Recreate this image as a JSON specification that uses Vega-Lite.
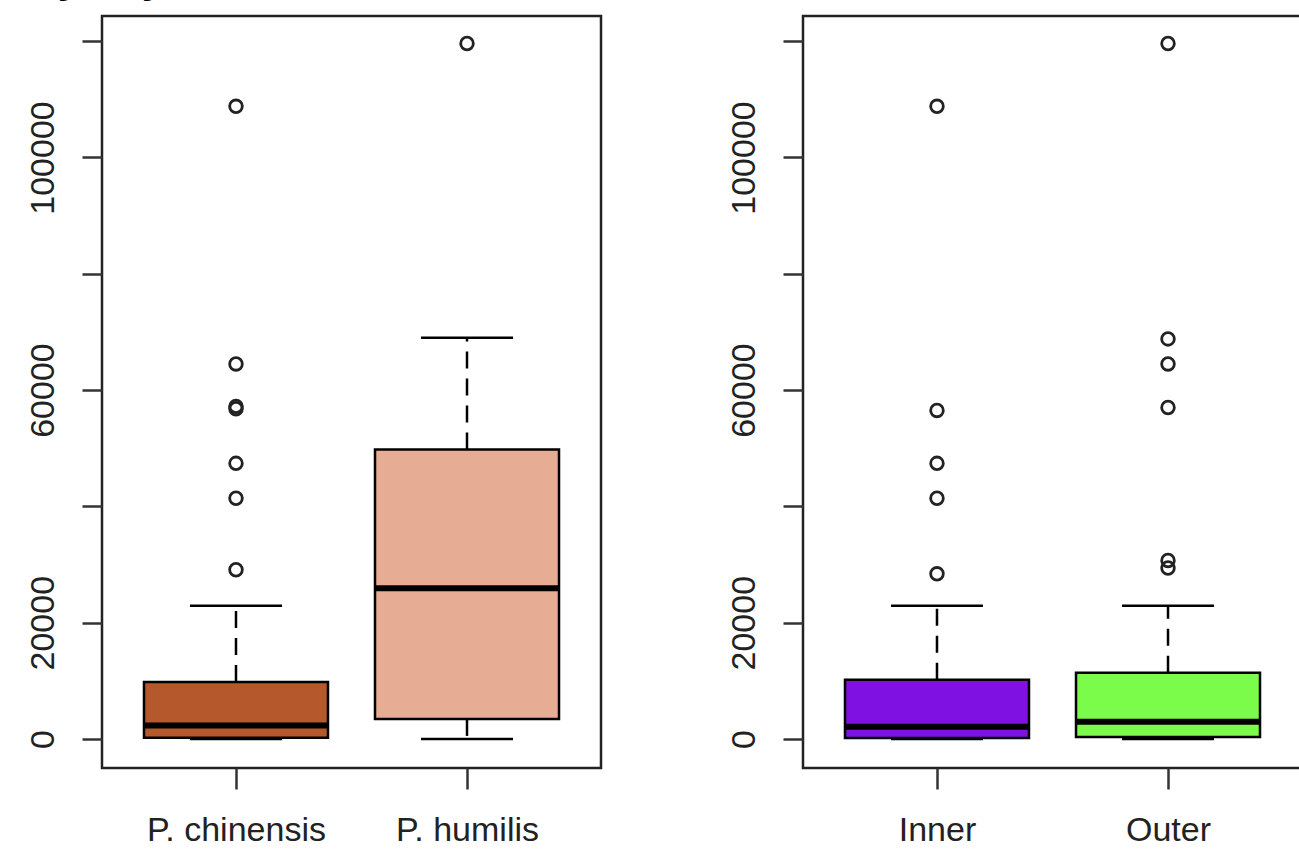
{
  "$schema": "https://vega.github.io/schema/vega-lite/v6.json",
  "background": "white",
  "padding": {"left": 24, "top": -43, "right": 0, "bottom": 0},
  "title": {"text": "by city", "anchor": "start", "frame": "group", "font": "Liberation Sans", "fontSize": 42, "fontWeight": "bold", "color": "black", "baseline": "alphabetic", "offset": -19, "dx": -70},
  "datasets": {
    "boxes": [
      {"panel": "species", "cat": "P. chinensis", "lower": 0, "q1": 200, "median": 2300, "q3": 9800, "upper": 22900},
      {"panel": "species", "cat": "P. humilis", "lower": 0, "q1": 3450, "median": 25900, "q3": 49800, "upper": 69000},
      {"panel": "zone", "cat": "Inner", "lower": 0, "q1": 150, "median": 2100, "q3": 10200, "upper": 22900},
      {"panel": "zone", "cat": "Outer", "lower": 0, "q1": 350, "median": 2950, "q3": 11400, "upper": 22900}
    ],
    "outliers": [
      {"panel": "species", "cat": "P. chinensis", "value": 29100},
      {"panel": "species", "cat": "P. chinensis", "value": 41400},
      {"panel": "species", "cat": "P. chinensis", "value": 47400},
      {"panel": "species", "cat": "P. chinensis", "value": 56800},
      {"panel": "species", "cat": "P. chinensis", "value": 57200},
      {"panel": "species", "cat": "P. chinensis", "value": 64500},
      {"panel": "species", "cat": "P. chinensis", "value": 108800},
      {"panel": "species", "cat": "P. humilis", "value": 119600},
      {"panel": "zone", "cat": "Inner", "value": 28400},
      {"panel": "zone", "cat": "Inner", "value": 41400},
      {"panel": "zone", "cat": "Inner", "value": 47400},
      {"panel": "zone", "cat": "Inner", "value": 56500},
      {"panel": "zone", "cat": "Inner", "value": 108800},
      {"panel": "zone", "cat": "Outer", "value": 29400},
      {"panel": "zone", "cat": "Outer", "value": 30700},
      {"panel": "zone", "cat": "Outer", "value": 57000},
      {"panel": "zone", "cat": "Outer", "value": 64500},
      {"panel": "zone", "cat": "Outer", "value": 68800},
      {"panel": "zone", "cat": "Outer", "value": 119600}
    ]
  },
  "spacing": 202,
  "bounds": "flush",
  "hconcat": [
    {
      "width": 499, "height": 752,
      "encoding": {
        "x": {"field": "cat", "type": "nominal", "sort": ["P. chinensis", "P. humilis"], "scale": {"type": "point", "padding": 0.58}, "axis": {"title": null, "labelAngle": 0, "tickSize": 21, "labelPadding": 24}}
      },
      "layer": [
        {"data": {"name": "boxes"}, "transform": [{"filter": "datum.panel == 'species'"}],
         "mark": {"type": "rule", "strokeDash": [17, 10], "strokeWidth": 2.5, "color": "black"},
         "encoding": {"y": {"field": "q3", "type": "quantitative", "scale": {"domain": [-4990, 124330], "nice": false, "zero": false}, "axis": {"title": null, "values": [0, 20000, 40000, 60000, 80000, 100000, 120000], "format": "d", "labelExpr": "indexof([0, 20000, 60000, 100000], datum.value) >= 0 ? datum.label : ''", "labelAngle": -90, "tickSize": 20, "labelPadding": 22}}, "y2": {"field": "upper"}}},
        {"data": {"name": "boxes"}, "transform": [{"filter": "datum.panel == 'species'"}],
         "mark": {"type": "rule", "strokeDash": [17, 10], "strokeWidth": 2.5, "color": "black"},
         "encoding": {"y": {"field": "q1", "type": "quantitative"}, "y2": {"field": "lower"}}},
        {"data": {"name": "boxes"}, "transform": [{"filter": "datum.panel == 'species'"}],
         "mark": {"type": "tick", "size": 92, "thickness": 2.5, "color": "black", "opacity": 1},
         "encoding": {"y": {"field": "upper", "type": "quantitative"}}},
        {"data": {"name": "boxes"}, "transform": [{"filter": "datum.panel == 'species'"}],
         "mark": {"type": "tick", "size": 92, "thickness": 2.5, "color": "black", "opacity": 1},
         "encoding": {"y": {"field": "lower", "type": "quantitative"}}},
        {"data": {"name": "boxes"}, "transform": [{"filter": "datum.panel == 'species'"}],
         "mark": {"type": "bar", "size": 184, "stroke": "black", "strokeWidth": 2.5, "opacity": 1},
         "encoding": {"y": {"field": "q1", "type": "quantitative"}, "y2": {"field": "q3"},
           "color": {"field": "cat", "type": "nominal", "legend": null, "scale": {"domain": ["P. chinensis", "P. humilis", "Inner", "Outer"], "range": ["#B5582B", "#E6AD94", "#7F12E3", "#7BFB4A"]}}}},
        {"data": {"name": "boxes"}, "transform": [{"filter": "datum.panel == 'species'"}],
         "mark": {"type": "tick", "size": 184, "thickness": 6, "color": "black", "opacity": 1},
         "encoding": {"y": {"field": "median", "type": "quantitative"}}},
        {"data": {"name": "outliers"}, "transform": [{"filter": "datum.panel == 'species'"}],
         "mark": {"type": "point", "shape": "circle", "filled": false, "size": 160, "strokeWidth": 2.8, "color": "#222", "opacity": 1},
         "encoding": {"y": {"field": "value", "type": "quantitative"}}}
      ]
    },
    {
      "width": 499, "height": 752,
      "encoding": {
        "x": {"field": "cat", "type": "nominal", "sort": ["Inner", "Outer"], "scale": {"type": "point", "padding": 0.58}, "axis": {"title": null, "labelAngle": 0, "tickSize": 21, "labelPadding": 24}}
      },
      "layer": [
        {"data": {"name": "boxes"}, "transform": [{"filter": "datum.panel == 'zone'"}],
         "mark": {"type": "rule", "strokeDash": [17, 10], "strokeWidth": 2.5, "color": "black"},
         "encoding": {"y": {"field": "q3", "type": "quantitative", "scale": {"domain": [-4990, 124330], "nice": false, "zero": false}, "axis": {"title": null, "values": [0, 20000, 40000, 60000, 80000, 100000, 120000], "format": "d", "labelExpr": "indexof([0, 20000, 60000, 100000], datum.value) >= 0 ? datum.label : ''", "labelAngle": -90, "tickSize": 20, "labelPadding": 22}}, "y2": {"field": "upper"}}},
        {"data": {"name": "boxes"}, "transform": [{"filter": "datum.panel == 'zone'"}],
         "mark": {"type": "rule", "strokeDash": [17, 10], "strokeWidth": 2.5, "color": "black"},
         "encoding": {"y": {"field": "q1", "type": "quantitative"}, "y2": {"field": "lower"}}},
        {"data": {"name": "boxes"}, "transform": [{"filter": "datum.panel == 'zone'"}],
         "mark": {"type": "tick", "size": 92, "thickness": 2.5, "color": "black", "opacity": 1},
         "encoding": {"y": {"field": "upper", "type": "quantitative"}}},
        {"data": {"name": "boxes"}, "transform": [{"filter": "datum.panel == 'zone'"}],
         "mark": {"type": "tick", "size": 92, "thickness": 2.5, "color": "black", "opacity": 1},
         "encoding": {"y": {"field": "lower", "type": "quantitative"}}},
        {"data": {"name": "boxes"}, "transform": [{"filter": "datum.panel == 'zone'"}],
         "mark": {"type": "bar", "size": 184, "stroke": "black", "strokeWidth": 2.5, "opacity": 1},
         "encoding": {"y": {"field": "q1", "type": "quantitative"}, "y2": {"field": "q3"},
           "color": {"field": "cat", "type": "nominal", "legend": null, "scale": {"domain": ["P. chinensis", "P. humilis", "Inner", "Outer"], "range": ["#B5582B", "#E6AD94", "#7F12E3", "#7BFB4A"]}}}},
        {"data": {"name": "boxes"}, "transform": [{"filter": "datum.panel == 'zone'"}],
         "mark": {"type": "tick", "size": 184, "thickness": 6, "color": "black", "opacity": 1},
         "encoding": {"y": {"field": "median", "type": "quantitative"}}},
        {"data": {"name": "outliers"}, "transform": [{"filter": "datum.panel == 'zone'"}],
         "mark": {"type": "point", "shape": "circle", "filled": false, "size": 160, "strokeWidth": 2.8, "color": "#222", "opacity": 1},
         "encoding": {"y": {"field": "value", "type": "quantitative"}}}
      ]
    }
  ],
  "config": {
    "view": {"stroke": "#222", "strokeWidth": 2.5},
    "axis": {"domain": false, "grid": false, "tickColor": "#333", "tickWidth": 2.5, "labelFont": "Liberation Sans", "labelFontSize": 34, "labelColor": "#222", "labelOverlap": false, "labelFlush": false}
  }
}
